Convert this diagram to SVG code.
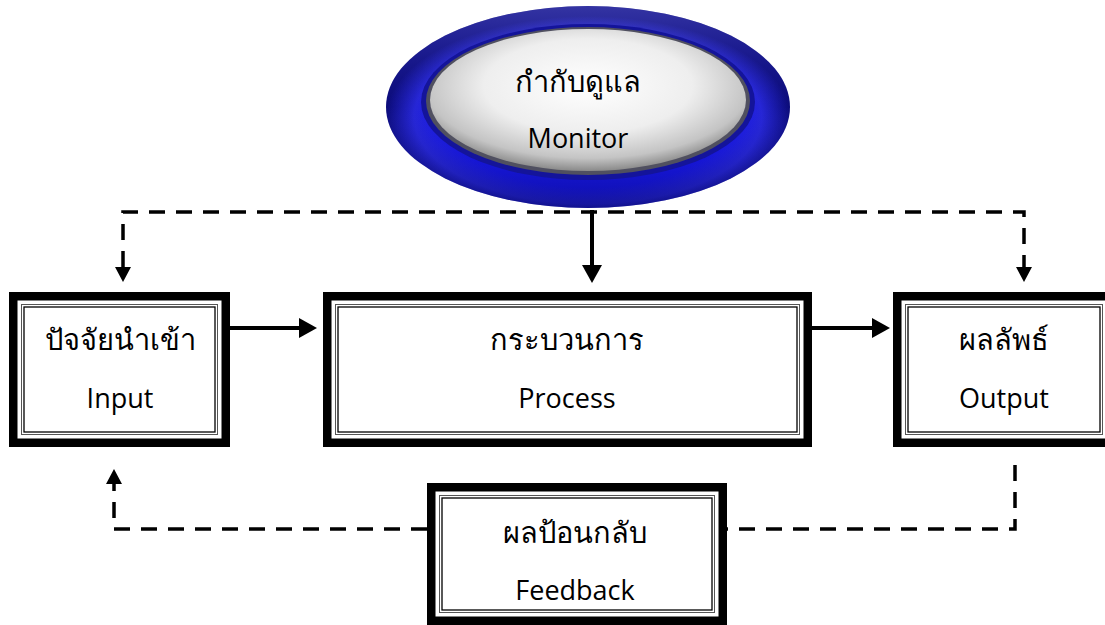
<svg xmlns="http://www.w3.org/2000/svg" width="1105" height="625" viewBox="0 0 1105 625">
  <style>
    .thick { fill: #ffffff; stroke: #000000; stroke-width: 8.5; }
    .thin1 { fill: none; stroke: #555555; stroke-width: 1; }
    .thin2 { fill: none; stroke: #000000; stroke-width: 1.3; }
    .lbl { font-family: "Open Sans", "Noto Sans", "DejaVu Sans", sans-serif; font-size: 27px; fill: #000000; text-anchor: middle; }
    .th { font-size: 29px; }
    .solid { fill: none; stroke: #000000; stroke-width: 4; }
    .dash { fill: none; stroke: #000000; stroke-width: 3.5; stroke-dasharray: 16 11; }
  </style>
  <defs>
    <marker id="arrowSolid" markerUnits="userSpaceOnUse" viewBox="0 0 18 20" refX="0" refY="10" markerWidth="18" markerHeight="20" orient="auto">
      <path d="M0,0 L18,10 L0,20 z" fill="#000000"/>
    </marker>
    <marker id="arrowDash" markerUnits="userSpaceOnUse" viewBox="0 0 15 16" refX="0" refY="8" markerWidth="15" markerHeight="16" orient="auto-start-reverse">
      <path d="M0,0 L15,8 L0,16 z" fill="#000000"/>
    </marker>
    <radialGradient id="blueRing" cx="0.5" cy="0.55" r="0.5">
      <stop offset="0.70" stop-color="#1414ec"/>
      <stop offset="0.86" stop-color="#2626d6"/>
      <stop offset="1" stop-color="#0c0c7a"/>
    </radialGradient>
    <linearGradient id="blueShade" x1="0" y1="0" x2="0" y2="1">
      <stop offset="0" stop-color="#7070e0" stop-opacity="0.4"/>
      <stop offset="0.5" stop-color="#3030d0" stop-opacity="0"/>
      <stop offset="1" stop-color="#050560" stop-opacity="0.5"/>
    </linearGradient>
    <radialGradient id="silver" cx="0.5" cy="0.4" r="0.6">
      <stop offset="0" stop-color="#ffffff"/>
      <stop offset="0.55" stop-color="#eeeeee"/>
      <stop offset="0.85" stop-color="#c4c4c4"/>
      <stop offset="1" stop-color="#8a8a8a"/>
    </radialGradient>
  </defs>

  <g id="connectors">
    <path class="dash" d="M123,267 V212 H1024 V267" marker-start="url(#arrowDash)" marker-end="url(#arrowDash)"/>
    <path class="solid" d="M592,210 V265" marker-end="url(#arrowSolid)"/>
    <path class="solid" d="M230,328 H299" marker-end="url(#arrowSolid)"/>
    <path class="solid" d="M812,328 H872" marker-end="url(#arrowSolid)"/>
    <path class="dash" d="M427,529 H114 V484" marker-end="url(#arrowDash)"/>
    <path class="dash" d="M1015,465 V529 H727"/>
  </g>

  <g id="monitor">
    <ellipse cx="588" cy="107" rx="202" ry="101" fill="url(#blueRing)"/>
    <ellipse cx="588" cy="107" rx="202" ry="101" fill="url(#blueShade)"/>
    <ellipse cx="588" cy="102" rx="167" ry="78" fill="#14149a"/>
    <ellipse cx="588" cy="101" rx="162" ry="74" fill="#505060"/>
    <ellipse cx="588" cy="100" rx="158" ry="71" fill="url(#silver)"/>
    <text class="lbl th" x="578" y="92">กำกับดูแล</text>
    <text class="lbl" x="578" y="148">Monitor</text>
  </g>

  <g id="input">
    <rect class="thick" x="13.25" y="296.25" width="212.5" height="146.5"/>
    <rect class="thin1" x="21.5" y="304.5" width="196" height="130"/>
    <rect class="thin2" x="24" y="307" width="191" height="125"/>
    <text class="lbl th" x="120" y="350">ปัจจัยนำเข้า</text>
    <text class="lbl" x="120" y="408">Input</text>
  </g>

  <g id="process">
    <rect class="thick" x="327.25" y="296.25" width="480.5" height="146.5"/>
    <rect class="thin1" x="335.5" y="304.5" width="464" height="130"/>
    <rect class="thin2" x="338" y="307" width="459" height="125"/>
    <text class="lbl th" x="567" y="350">กระบวนการ</text>
    <text class="lbl" x="567" y="408">Process</text>
  </g>

  <g id="output">
    <rect class="thick" x="897.25" y="296.25" width="213.5" height="146.5"/>
    <rect class="thin1" x="905.5" y="304.5" width="197" height="130"/>
    <rect class="thin2" x="908" y="307" width="192" height="125"/>
    <text class="lbl th" x="1004" y="350">ผลลัพธ์</text>
    <text class="lbl" x="1004" y="408">Output</text>
  </g>

  <g id="feedback">
    <rect class="thick" x="431.25" y="487.25" width="291.5" height="133.5"/>
    <rect class="thin1" x="439.5" y="495.5" width="275" height="117"/>
    <rect class="thin2" x="442" y="498" width="270" height="112"/>
    <text class="lbl th" x="575" y="543">ผลป้อนกลับ</text>
    <text class="lbl" x="575" y="600">Feedback</text>
  </g>
</svg>
